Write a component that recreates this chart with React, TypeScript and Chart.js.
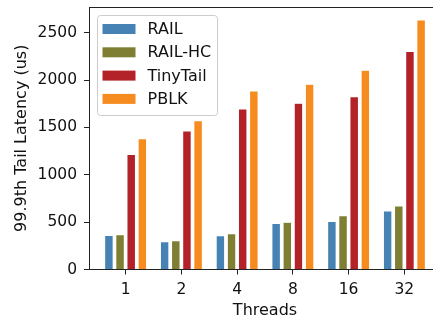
import React, { useEffect, useRef } from "react";
import { Chart, registerables } from "chart.js";

Chart.register(...registerables);

const threads = ["1", "2", "4", "8", "16", "32"];
const seriesNames = ["RAIL", "RAIL-HC", "TinyTail", "PBLK"];
const seriesColors = ["#4682b4", "#7f7f33", "#b22228", "#f68b1f"];
const rail = [358, 293, 357, 487, 508, 618];
const railHC = [367, 304, 378, 498, 568, 670];
const tinyTail = [1215, 1462, 1695, 1755, 1825, 2302];
const pblk = [1380, 1571, 1886, 1956, 2105, 2635];
const yTicks = [0, 500, 1000, 1500, 2000, 2500];
const yMax = 2772;

const FONT = "'DejaVu Sans', sans-serif";

const frameAndLegend = {
  id: "frameAndLegend",
  afterDraw(chart: any) {
    const ctx = chart.ctx;
    const a = chart.chartArea;
    ctx.save();
    // top and right spines
    ctx.strokeStyle = "#222";
    ctx.lineWidth = 1;
    ctx.beginPath();
    ctx.moveTo(a.left, Math.round(a.top) + 0.5);
    ctx.lineTo(a.right, Math.round(a.top) + 0.5);
    ctx.stroke();
    ctx.beginPath();
    ctx.moveTo(Math.round(a.right) - 0.5, a.top);
    ctx.lineTo(Math.round(a.right) - 0.5, a.bottom);
    ctx.stroke();

    // legend box
    const bx = 97.5, by = 15.5, bw = 120, bh = 100, r = 3;
    ctx.fillStyle = "rgba(255,255,255,0.85)";
    ctx.strokeStyle = "#cccccc";
    ctx.lineWidth = 1;
    ctx.beginPath();
    ctx.moveTo(bx + r, by);
    ctx.lineTo(bx + bw - r, by);
    ctx.arcTo(bx + bw, by, bx + bw, by + r, r);
    ctx.lineTo(bx + bw, by + bh - r);
    ctx.arcTo(bx + bw, by + bh, bx + bw - r, by + bh, r);
    ctx.lineTo(bx + r, by + bh);
    ctx.arcTo(bx, by + bh, bx, by + bh - r, r);
    ctx.lineTo(bx, by + r);
    ctx.arcTo(bx, by, bx + r, by, r);
    ctx.closePath();
    ctx.fill();
    ctx.stroke();

    ctx.font = `16px ${FONT}`;
    ctx.textBaseline = "middle";
    ctx.textAlign = "left";
    seriesNames.forEach((name, i) => {
      const cy = 29 + i * 23.3;
      ctx.fillStyle = seriesColors[i];
      ctx.fillRect(102.5, cy - 5, 33, 10);
      ctx.fillStyle = "#111";
      ctx.fillText(name, 147.5, cy + 1);
    });
    ctx.restore();
  },
};

export default function App() {
  const ref = useRef<HTMLCanvasElement>(null);
  useEffect(() => {
    if (!ref.current) return;
    const all = [rail, railHC, tinyTail, pblk];
    const chart = new Chart(ref.current, {
      type: "bar",
      data: {
        datasets: all.map((vals, i) => ({
          label: seriesNames[i],
          data: vals.map((v, j) => ({ x: j, y: v })),
          backgroundColor: seriesColors[i],
          borderColor: "rgba(255,255,255,0.6)",
          borderWidth: 0.5,
          categoryPercentage: 0.8,
          barPercentage: 0.76,
        })),
      },
      options: {
        responsive: false,
        animation: false,
        layout: { padding: { left: 0, right: 0, top: 7, bottom: 0 } },
        plugins: {
          legend: { display: false },
          tooltip: { enabled: false },
        },
        scales: {
          x: {
            type: "linear",
            min: -0.657,
            max: 5.657,
            offset: false,
            afterBuildTicks: (axis: any) => {
              axis.ticks = threads.map((_, i) => ({ value: i }));
            },
            afterFit: (axis: any) => {
              axis.height = 50.5;
              axis.paddingLeft = 0;
              axis.paddingRight = 0;
            },
            ticks: {
              autoSkip: false,
              maxRotation: 0,
              padding: 6,
              color: "#111",
              font: { family: FONT, size: 15.5 },
              callback: (v: any) => threads[Math.round(Number(v))] ?? "",
            },
            grid: {
              drawOnChartArea: false,
              drawTicks: true,
              tickLength: 5,
              color: "#222",
              offset: false,
            },
            border: { color: "#222", width: 1 },
            title: {
              display: true,
              text: "Threads",
              color: "#111",
              font: { family: FONT, size: 16 },
              padding: { top: 0, bottom: 0 },
            },
          },
          y: {
            min: 0,
            max: yMax,
            afterBuildTicks: (axis: any) => {
              axis.ticks = yTicks.map((v) => ({ value: v }));
            },
            afterFit: (axis: any) => {
              axis.width = 89;
              axis.paddingTop = 0;
              axis.paddingBottom = 0;
            },
            ticks: {
              padding: 7,
              color: "#111",
              font: { family: FONT, size: 15.5 },
              callback: (v: any) => String(v),
            },
            grid: {
              drawOnChartArea: false,
              drawTicks: true,
              tickLength: 5,
              color: "#222",
            },
            border: { color: "#222", width: 1 },
            title: {
              display: true,
              text: "99.9th Tail Latency (us)",
              color: "#111",
              font: { family: FONT, size: 16 },
              padding: { top: 12, bottom: 0 },
            },
          },
        },
      },
      plugins: [frameAndLegend],
    });
    return () => chart.destroy();
  }, []);

  return (
    <div
      style={{
        position: "absolute",
        left: 0,
        top: 0,
        width: 433,
        height: 320,
        overflow: "hidden",
        background: "#fff",
      }}
    >
      <canvas ref={ref} width={441} height={320} style={{ width: 441, height: 320, display: "block" }} />
    </div>
  );
}
